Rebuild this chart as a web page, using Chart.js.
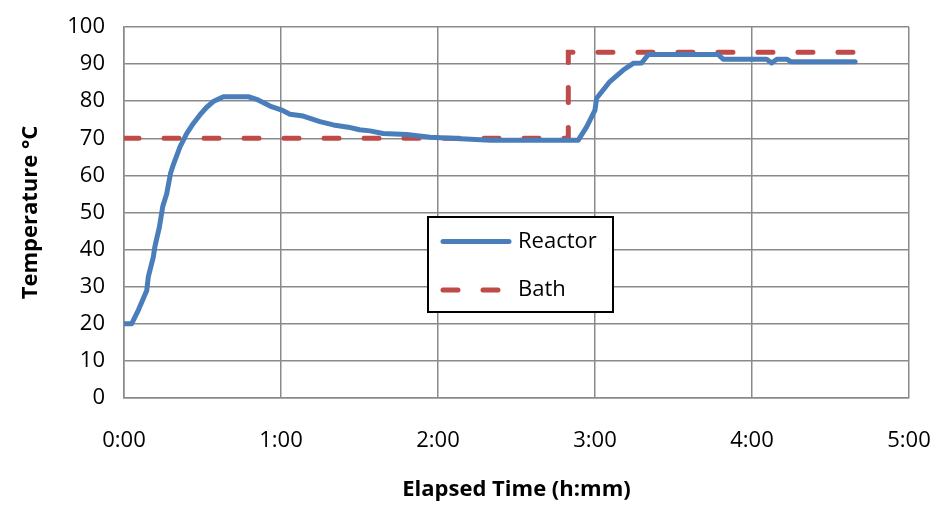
<!DOCTYPE html>
<html>
<head>
<meta charset="utf-8">
<script src="https://cdn.jsdelivr.net/npm/chart.js@4.4.1/dist/chart.umd.min.js"></script>
<style>
	html, body { margin: 0; padding: 0; background: #fff; }
	#wrap { width: 936px; height: 507px; }
</style>
</head>
<body>
<div id="wrap"><canvas id="chart" width="936" height="507"></canvas></div>
<script>
// elapsed time in minutes, temperature in °C
const reactorMinutes = [0, 2.9, 5.5, 7.5, 8.7, 9.3, 11.2, 11.8, 13.5, 14.8, 16.3, 17.8, 18.8, 21.4, 24, 26.5, 29, 31.5, 34.1, 38,
	47.5, 50.7, 55.8, 60.3, 63.4, 68.5, 74.9, 80, 85.7, 90, 94, 99, 108, 117, 125, 140,
	173.6, 176.8, 180, 180.6, 185.7, 190.8, 194.6, 197.8, 200.4, 227, 229, 245.6, 247.5, 249.5, 253.4, 255, 279.4];
const reactorTemps = [20, 20, 23.7, 27, 29, 32.7, 38, 40.8, 46, 51.6, 55, 60.6, 62.8, 67.7, 71.3, 74, 76.3, 78.3, 79.9, 81.2,
	81.2, 80.5, 78.7, 77.6, 76.5, 76, 74.5, 73.6, 73, 72.3, 72, 71.3, 71, 70.3, 70, 69.5,
	69.5, 73.1, 77.6, 80.8, 85.3, 88.4, 90.2, 90.3, 92.6, 92.6, 91.3, 91.3, 90.3, 91.3, 91.3, 90.6, 90.6];

const bathMinutes = [0, 169.8, 169.8, 278.6];
const bathTemps = [70, 70, 93.2, 93.2];

const xTickLabels = ['0:00', '1:00', '2:00', '3:00', '4:00', '5:00'];
const yTickLabels = ['0', '10', '20', '30', '40', '50', '60', '70', '80', '90', '100'];

const seriesNames = ['Reactor', 'Bath'];

let toPoints = (xs, ys) => xs.map((x, i) => ({x: x, y: ys[i]}));

const FONT = "'Open Sans', 'DejaVu Sans', sans-serif";
const GRID = '#8a8a8a';

// legend box sitting inside the plot, like the spreadsheet one
const boxLegend = {
	id: 'boxLegend',
	afterDraw(chart) {
		const ctx = chart.ctx;
		const x = 428, y = 217, w = 185, h = 95;
		ctx.save();
		ctx.fillStyle = '#fff';
		ctx.fillRect(x, y, w, h);
		ctx.lineWidth = 2;
		ctx.strokeStyle = '#000';
		ctx.strokeRect(x, y, w, h);
		chart.data.datasets.forEach((ds, i) => {
			const ly = [241.5, 290][i];
			ctx.beginPath();
			ctx.lineWidth = 5;
			ctx.lineCap = 'round';
			ctx.strokeStyle = ds.borderColor;
			ctx.setLineDash(ds.borderDash || []);
			ctx.moveTo(443, ly);
			ctx.lineTo(509, ly);
			ctx.stroke();
			ctx.setLineDash([]);
			ctx.fillStyle = '#000';
			ctx.font = '22px ' + FONT;
			ctx.textBaseline = 'middle';
			ctx.textAlign = 'left';
			ctx.fillText(ds.label, 518, ly);
		});
		ctx.restore();
	}
};

new Chart(document.getElementById('chart'), {
	type: 'scatter',
	data: {
		datasets: [{
			label: seriesNames[0],
			data: toPoints(reactorMinutes, reactorTemps),
			showLine: true,
			borderColor: '#4a7ebb',
			borderWidth: 5,
			pointRadius: 0,
			tension: 0,
			borderJoinStyle: 'round',
			borderCapStyle: 'round'
		}, {
			label: seriesNames[1],
			data: toPoints(bathMinutes, bathTemps),
			showLine: true,
			borderColor: '#be4b48',
			borderWidth: 5,
			borderDash: [15, 25],
			borderCapStyle: 'round',
			pointRadius: 0,
			tension: 0
		}]
	},
	options: {
		responsive: false,
		animation: false,
		devicePixelRatio: 1,
		layout: { padding: { left: 0, right: 27, top: 27, bottom: 0 } },
		plugins: {
			legend: { display: false },
			tooltip: { enabled: false }
		},
		scales: {
			x: {
				type: 'linear',
				min: 0,
				max: 300,
				ticks: {
					stepSize: 60,
					padding: 30,
					color: '#000',
					font: { family: FONT, size: 22 },
					maxRotation: 0,
					callback: (v) => xTickLabels[v / 60]
				},
				grid: { color: GRID, lineWidth: 1.5, drawTicks: false },
				border: { color: GRID, width: 1.5 },
				title: {
					display: true,
					text: 'Elapsed Time (h:mm)',
					color: '#000',
					font: { family: FONT, size: 22, weight: 'bold' },
					padding: { top: 0, bottom: 4 }
				},
				afterFit: (scale) => {
					scale.height = 109;
					scale.paddingLeft = 0;
					scale.paddingRight = 0;
				}
			},
			y: {
				min: 0,
				max: 100,
				ticks: {
					stepSize: 10,
					padding: 19,
					color: '#000',
					font: { family: FONT, size: 22 },
					callback: (v) => yTickLabels[v / 10]
				},
				grid: { color: GRID, lineWidth: 1.5, drawTicks: false },
				border: { color: GRID, width: 1.5 },
				title: {
					display: true,
					text: 'Temperature °C',
					color: '#000',
					font: { family: FONT, size: 22, weight: 'bold' },
					padding: { top: 18, bottom: 0 }
				},
				afterFit: (scale) => {
					scale.width = 124;
					scale.paddingTop = 0;
					scale.paddingBottom = 0;
				}
			}
		}
	},
	plugins: [boxLegend]
});
</script>
</body>
</html>
